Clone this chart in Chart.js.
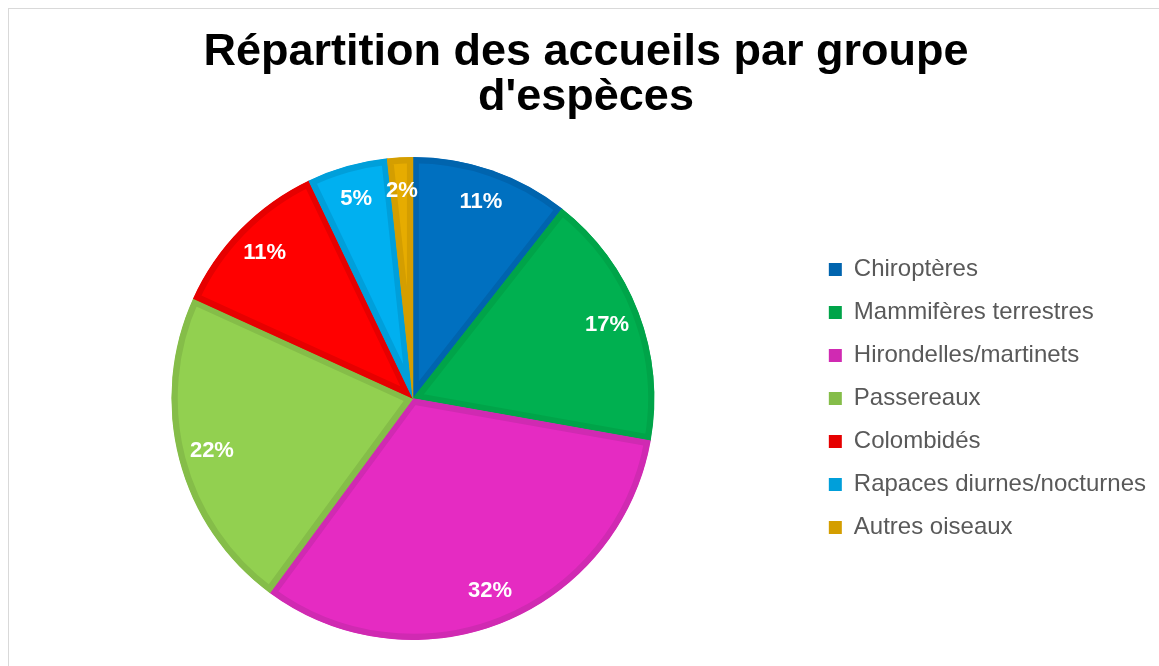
<!DOCTYPE html>
<html>
<head>
<meta charset="utf-8">
<script src="https://cdn.jsdelivr.net/npm/chart.js@4"></script>
<style>
    html, body { margin: 0; padding: 0; background: #fff; overflow: hidden; }
    #frame {
        position: absolute; left: 8px; top: 8px; right: 0; bottom: 0;
        border-top: 1px solid #d9d9d9; border-left: 1px solid #d9d9d9;
    }
    #wrap { position: absolute; left: 0; top: 0; width: 1159px; height: 666px; }
</style>
</head>
<body>
<div id="frame"></div>
<div id="wrap"><canvas id="pieChart"></canvas></div>
<script>
// Data (share of intakes, %)
const categories = [
    "Chiroptères",
    "Mammifères terrestres",
    "Hirondelles/martinets",
    "Passereaux",
    "Colombidés",
    "Rapaces diurnes/nocturnes",
    "Autres oiseaux",
];
const shares = [10.6, 17.2, 32.3, 21.7, 11.1, 5.4, 1.7];

const fillColors = ["#0070c0", "#00b050", "#e52bc2", "#92d050", "#ff0000", "#00b0f0", "#e6ac00"];
const edgeColors = ["#0064ae", "#00a449", "#d02ab2", "#85bd49", "#e60000", "#009fda", "#d49e00"];

const FONT = "'Liberation Sans', Arial, sans-serif";

// Percent labels inside the slices
const sliceLabels = {
    id: "sliceLabels",
    afterDatasetsDraw(chart) {
        const ctx = chart.ctx;
        const meta = chart.getDatasetMeta(0);
        const total = shares.reduce((a, b) => a + b, 0);
        ctx.save();
        ctx.fillStyle = "#ffffff";
        ctx.font = "bold 22px " + FONT;
        ctx.textAlign = "center";
        ctx.textBaseline = "middle";
        meta.data.forEach((arc, i) => {
            const mid = (arc.startAngle + arc.endAngle) / 2;
            const r = arc.outerRadius * 0.86;
            const x = arc.x + Math.cos(mid) * r;
            const y = arc.y + Math.sin(mid) * r;
            ctx.fillText(Math.round((shares[i] / total) * 100) + "%", x, y);
        });
        ctx.restore();
    },
};

new Chart(document.getElementById("pieChart"), {
    type: "pie",
    data: {
        labels: categories,
        datasets: [
            {
                data: shares,
                backgroundColor: fillColors,
                borderColor: edgeColors,
                borderWidth: 6,
                borderAlign: "inner",
            },
        ],
    },
    options: {
        responsive: true,
        maintainAspectRatio: false,
        animation: false,
        layout: { padding: { left: 16, right: 3, top: 30, bottom: 26 } },
        plugins: {
            title: {
                display: true,
                text: ["Répartition des accueils par groupe", "d'espèces"],
                color: "#000000",
                font: { family: FONT, size: 45, weight: "bold", lineHeight: 1.0 },
                padding: { top: 0, bottom: 37 },
            },
            legend: {
                position: "right",
                fullSize: false,
                labels: {
                    color: "#595959",
                    font: { family: FONT, size: 24 },
                    boxWidth: 13,
                    boxHeight: 13,
                    padding: 19,
                    generateLabels: (chart) =>
                        Chart.overrides.pie.plugins.legend.labels
                            .generateLabels(chart)
                            .map((item, i) => ({ ...item, fillStyle: edgeColors[i], lineWidth: 0 })),
                },
            },
            tooltip: { enabled: false },
        },
    },
    plugins: [sliceLabels],
});
</script>
</body>
</html>
